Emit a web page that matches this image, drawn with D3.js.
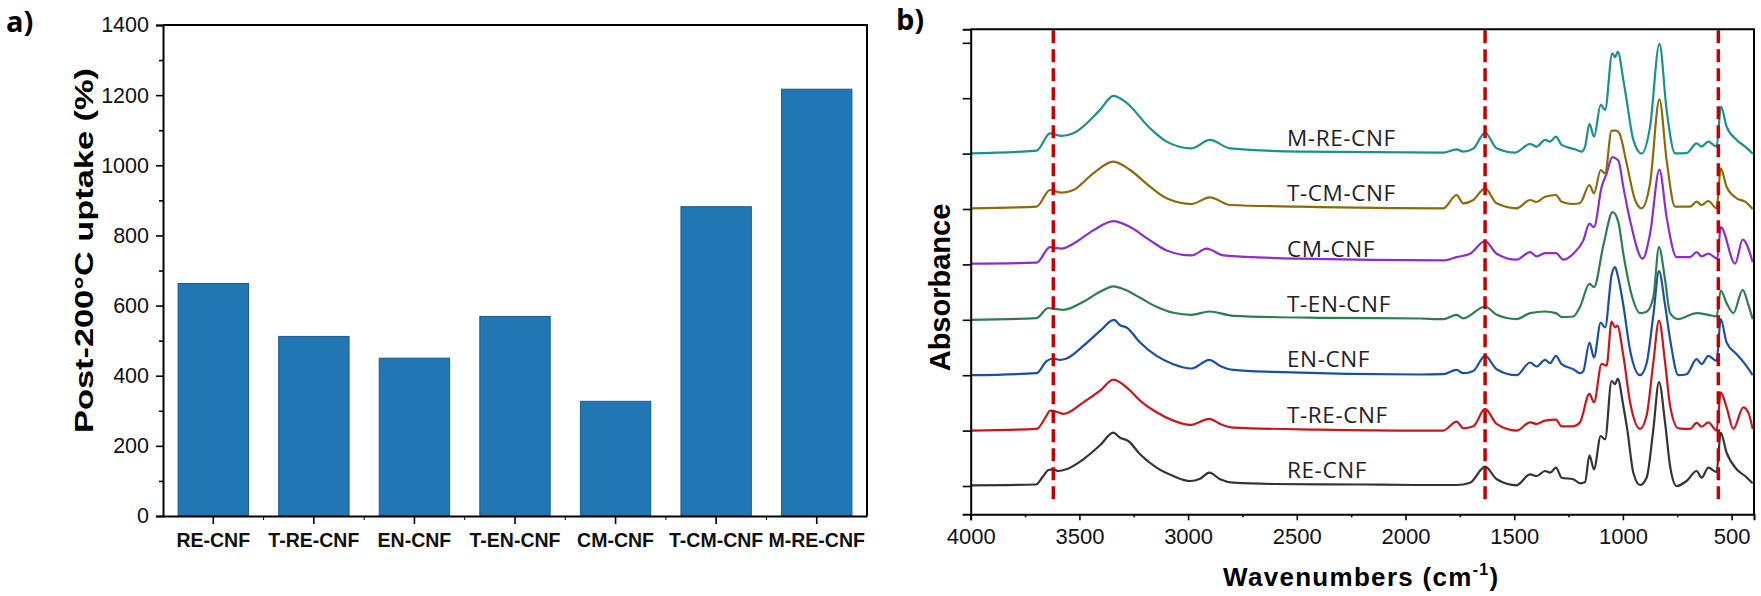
<!DOCTYPE html>
<html>
<head>
<meta charset="utf-8">
<script src="https://cdn.jsdelivr.net/npm/d3@7"></script>
<style>
  html, body { margin: 0; padding: 0; background: #fff; }
  svg { display: block; }
</style>
</head>
<body>
<svg id="chart" width="1761" height="596"></svg>
<script>
// ---- panel a data ----
const samples = ["RE-CNF", "T-RE-CNF", "EN-CNF", "T-EN-CNF", "CM-CNF", "T-CM-CNF", "M-RE-CNF"];
const uptake = [663, 512, 450, 569, 327, 882, 1217];
const uptakeTicks = [0, 200, 400, 600, 800, 1000, 1200, 1400];

// ---- panel b data: [wavenumber, absorbance (a.u.)] ----
const reCnf = [[4000,0.7],[3700,1.5],[3666,10],[3643,16],[3620,16.7],[3597,15],[3560,16.7],[3482,26.7],[3405,40.7],[3344,53.3],[3313,48.3],[3275,45],[3221,31.7],[3145,18.3],[3068,10],[2991,5],[2945,7.3],[2902,13.3],[2853,6.7],[2792,3.3],[2608,2],[2200,1.5],[1933,1],[1765,1],[1703,3.3],[1634,19.3],[1580,6.7],[1489,0.7],[1427,11.7],[1397,10],[1358,15],[1335,13.3],[1308,18.3],[1282,8.3],[1228,6.7],[1197,2.7],[1174,4],[1154,30.7],[1133,16.7],[1102,50],[1082,46.7],[1052,105],[1036,101.7],[1024,107.3],[998,80],[980,56.7],[952,13.3],[921,1],[891,8.3],[860,56.7],[834,104],[806,63.3],[783,20],[753,0],[707,5],[661,15],[638,8.3],[607,18.3],[569,14],[550,53.3],[523,33.3],[477,16.7],[438,10],[403,2.7]];
const tReCnf = [[4000,0],[3697,1.7],[3651,15],[3635,20],[3597,18.3],[3574,16.7],[3482,28.3],[3405,40],[3344,51],[3275,41.7],[3221,30],[3145,18.3],[3068,10],[2991,5.7],[2902,11.7],[2853,6.7],[2792,3],[2400,1],[1933,0],[1826,0],[1765,9],[1734,2.3],[1688,4.3],[1634,21.7],[1581,6.7],[1489,0],[1427,8.3],[1397,6.7],[1358,10],[1308,11],[1282,4.3],[1228,4.3],[1197,8.3],[1154,36.7],[1133,28.3],[1098,66.7],[1075,65],[1052,109],[1036,103.3],[1026,105],[998,75],[967,28.3],[921,1.7],[891,15],[860,68.3],[834,110],[806,68.3],[783,25],[745,2.3],[691,1.7],[661,7.7],[638,4],[607,8.3],[569,0],[550,38.3],[523,23.3],[492,1.7],[446,23.3],[423,18],[403,1.7]];
const enCnf = [[4000,0],[3697,2],[3651,14],[3620,16.7],[3589,15.3],[3559,16.7],[3482,29.3],[3405,44.3],[3341,55.3],[3313,50],[3283,47.7],[3221,32.7],[3145,19.3],[3068,11],[2984,6.7],[2902,15.3],[2853,9.3],[2792,5.3],[2608,3.3],[1933,0.7],[1826,1],[1765,5.3],[1734,2],[1688,4.3],[1634,19.3],[1581,6],[1489,0],[1427,12.7],[1397,8.7],[1358,15.3],[1335,12],[1308,19.3],[1282,11],[1228,6],[1197,2],[1182,4],[1154,32.7],[1133,17.7],[1102,52.7],[1082,47.7],[1052,100],[1036,108],[1024,100],[998,70],[967,25],[921,0],[891,12],[860,60],[834,104],[806,70],[783,36],[745,0],[707,1],[661,16],[638,11],[607,19.3],[569,14.3],[550,56],[523,32.7],[477,21],[438,11],[403,0]];
const tEnCnf = [[4000,0],[3697,1.7],[3643,11.8],[3612,10.8],[3574,10],[3482,18],[3405,28],[3344,33.5],[3290,30],[3221,22],[3145,13],[3068,7],[2984,5],[2902,8.3],[2792,4],[2400,2],[1933,1.3],[1826,0.7],[1765,5],[1734,1.5],[1634,13.3],[1581,5],[1489,0.7],[1427,6.7],[1358,8.3],[1308,6.7],[1282,2.7],[1228,3.3],[1197,13],[1154,36],[1133,32.7],[1090,74.3],[1047,107.7],[1021,97.7],[998,66],[960,25],[921,6.7],[891,8],[860,22.7],[834,72.7],[806,40],[783,6.7],[745,0.7],[661,6.7],[607,5],[569,3.3],[550,29.3],[523,16.7],[492,6.7],[449,30],[423,15],[403,0.7]];
const cmCnf = [[4000,0.7],[3697,1.7],[3635,17.3],[3582,15.7],[3528,20.7],[3436,34],[3344,43.3],[3267,37.3],[3175,24],[3099,14],[2984,9],[2915,15.7],[2838,9],[2485,5.7],[1826,4],[1765,7.3],[1703,10.7],[1634,23.3],[1581,10.7],[1489,4.7],[1427,12.3],[1397,8],[1358,11.3],[1308,11.3],[1274,4.7],[1228,10.7],[1182,24],[1154,40.7],[1133,37.3],[1098,77.3],[1075,90.7],[1049,107.3],[1021,104],[998,77.3],[967,44],[909,5.7],[875,30.7],[832,94.7],[799,47.3],[753,7.3],[691,7.3],[661,12.3],[638,8],[607,10.7],[566,5.7],[550,37.3],[484,0.7],[449,24.7],[403,2.3]];
const tCmCnf = [[4000,0.7],[3697,2.3],[3635,19],[3582,16.3],[3528,19],[3436,35.7],[3344,47.3],[3267,39],[3175,22.3],[3099,10.7],[2984,5],[2900,11.7],[2807,4],[2485,2.3],[1826,0.7],[1765,14],[1734,5.7],[1688,9],[1634,20.7],[1581,5.7],[1489,0.7],[1427,9],[1397,7],[1358,12.3],[1308,14],[1282,7.3],[1228,5],[1197,6],[1154,24],[1133,15.7],[1102,39],[1082,35.7],[1052,78.3],[1032,78.3],[1016,75.7],[983,45.7],[944,9],[914,0.7],[875,25.7],[832,109.7],[799,49],[760,2.3],[691,2.3],[661,7.3],[638,4],[607,8],[569,0.7],[550,40.7],[523,22.3],[477,10.7],[438,7.3],[403,0]];
const mReCnf = [[4000,0.3],[3697,3],[3635,20.3],[3582,17.7],[3528,20.3],[3405,43.7],[3344,57.7],[3290,52],[3175,25.3],[3099,12],[2984,5.3],[2900,13.7],[2807,5.3],[2485,2],[1826,1],[1765,4.3],[1734,2],[1688,5],[1634,21],[1581,5.3],[1496,1],[1427,9.7],[1397,7],[1358,13.7],[1335,12],[1308,17],[1282,8.7],[1220,4.3],[1190,2],[1174,7],[1154,29.7],[1133,17],[1102,48.7],[1082,43.7],[1049,100.3],[1036,96.3],[1024,102],[998,73.7],[983,53.7],[952,13.7],[914,0],[875,27],[832,109.7],[799,43.7],[760,0.3],[707,0.5],[661,10.3],[638,7],[607,12],[569,7],[549,47],[523,27],[477,13.7],[438,7],[403,0]];

const spectra = [reCnf, tReCnf, enCnf, tEnCnf, cmCnf, tCmCnf, mReCnf];
const spectraColors = ["#343434", "#c8161d", "#1a4fa3", "#2e7d50", "#8a2fc8", "#8c6a0a", "#1a9090"];
const markerLines = [3620, 1634, 561];
const wnTicks = [4000, 3500, 3000, 2500, 2000, 1500, 1000, 500];
const offsetStep = 55.4; // vertical stacking step between spectra (a.u.)

const svg = d3.select("#chart");
const sans = "'Liberation Sans', Arial, sans-serif";

// =================== panel a ===================
const ax = { left: 163, right: 867, top: 25, bottom: 516 };

const xBand = d3.scaleBand()
  .domain(samples)
  .range([ax.left, ax.right])
  .paddingInner(0.3)
  .paddingOuter(0.15);

const yUp = d3.scaleLinear().domain([0, 1400]).range([ax.bottom, ax.top]);

const gA = svg.append("g");

gA.append("g")
  .selectAll("rect")
  .data(samples)
  .join("rect")
  .attr("x", (d) => xBand(d))
  .attr("y", (d, i) => yUp(uptake[i]))
  .attr("width", xBand.bandwidth())
  .attr("height", (d, i) => yUp(0) - yUp(uptake[i]))
  .attr("fill", "#2077b4")
  .attr("stroke", "#1a5d8e")
  .attr("stroke-width", 1);

// y axis with major + minor ticks
const yAxisA = gA.append("g")
  .attr("transform", `translate(${ax.left},0)`)
  .call(d3.axisLeft(yUp).tickValues(uptakeTicks).tickSize(7).tickPadding(7).tickFormat(d3.format("d")));
yAxisA.selectAll("text").attr("font-size", 21.5).attr("font-family", sans).attr("fill", "#111");
gA.append("g")
  .attr("transform", `translate(${ax.left},0)`)
  .call(d3.axisLeft(yUp).tickValues(d3.range(100, 1400, 200)).tickSize(4).tickFormat(""))
  .call((g) => g.select(".domain").remove());

// x axis
const xAxisA = gA.append("g")
  .attr("transform", `translate(0,${ax.bottom})`)
  .call(d3.axisBottom(xBand).tickSize(8).tickPadding(9).tickSizeOuter(0));
xAxisA.selectAll("text")
  .attr("font-size", 19.5)
  .attr("font-weight", "bold")
  .attr("font-family", sans)
  .attr("fill", "#111");
const bandEdges = samples.slice(1).map((d) => xBand(d) - (xBand.step() * xBand.paddingInner()) / 2);
gA.append("g")
  .selectAll("line")
  .data(bandEdges)
  .join("line")
  .attr("x1", (d) => d)
  .attr("x2", (d) => d)
  .attr("y1", ax.bottom)
  .attr("y2", ax.bottom + 4)
  .attr("stroke", "#000");

// frame
gA.append("path")
  .attr("d", `M${ax.left},${ax.top}H${ax.right}V${ax.bottom}`)
  .attr("fill", "none")
  .attr("stroke", "#000")
  .attr("stroke-width", 2);
gA.selectAll(".domain").attr("stroke-width", 2);
gA.selectAll(".tick line").attr("stroke-width", 1.6);

gA.append("text")
  .attr("transform", `translate(93,${(ax.top + ax.bottom) / 2 - 20}) rotate(-90)`)
  .attr("text-anchor", "middle")
  .attr("font-family", sans)
  .attr("font-weight", "bold")
  .attr("font-size", 26)
  .attr("textLength", 365)
  .attr("lengthAdjust", "spacingAndGlyphs")
  .text("Post-200°C uptake (%)");

gA.append("text")
  .attr("x", 6)
  .attr("y", 32)
  .attr("font-family", "'Open Sans', sans-serif")
  .attr("font-weight", "bold")
  .attr("font-size", 29)
  .text("a)");

// =================== panel b ===================
const bx = { left: 970.7, right: 1754, top: 29.3, bottom: 514.3 };

const xWn = d3.scaleLinear().domain([4000, 397]).range([bx.left, bx.right]);
const yAbs = d3.scaleLinear().domain([-28.3, 456.7]).range([bx.bottom, bx.top]);

const gB = svg.append("g");

const line = d3.line()
  .curve(d3.curveMonotoneX)
  .x((d) => xWn(d[0]))
  .y((d) => yAbs(d[1]));

gB.append("g")
  .selectAll("path")
  .data(spectra)
  .join("path")
  .attr("d", (d, i) => line(d.map(([w, a]) => [w, a + i * offsetStep])))
  .attr("fill", "none")
  .attr("stroke", (d, i) => spectraColors[i])
  .attr("stroke-width", 2.2)
  .attr("stroke-linejoin", "round");

// trace labels
gB.append("g")
  .selectAll("text")
  .data(samples)
  .join("text")
  .attr("x", xWn(2545))
  .attr("y", (d, i) => yAbs(i * offsetStep + 7.8))
  .attr("font-family", "'Open Sans', sans-serif")
  .attr("font-size", 22.5)
  .attr("letter-spacing", 0.6)
  .attr("fill", "#222")
  .text((d) => d);

// dashed marker lines
gB.append("g")
  .selectAll("line")
  .data(markerLines)
  .join("line")
  .attr("x1", (d) => xWn(d))
  .attr("x2", (d) => xWn(d))
  .attr("y1", bx.top + 1)
  .attr("y2", yAbs(-19))
  .attr("stroke", "#c40000")
  .attr("stroke-width", 3.5)
  .attr("stroke-dasharray", "13,6");

// axes
const xAxisB = gB.append("g")
  .attr("transform", `translate(0,${bx.bottom})`)
  .call(d3.axisBottom(xWn).tickValues(wnTicks).tickSize(6).tickPadding(8).tickFormat(d3.format("d")));
xAxisB.selectAll("text").attr("font-size", 22).attr("font-family", sans).attr("fill", "#111");
gB.append("g")
  .attr("transform", `translate(0,${bx.bottom})`)
  .call(d3.axisBottom(xWn).tickValues(d3.range(3750, 400, -500)).tickSize(3).tickFormat(""))
  .call((g) => g.select(".domain").remove());

gB.append("g")
  .attr("transform", `translate(${bx.left},0)`)
  .call(d3.axisLeft(yAbs).tickValues(d3.range(0, 9).map((k) => k * offsetStep)).tickSize(8).tickFormat(""));

gB.append("path")
  .attr("d", `M${bx.left},${bx.top}H${bx.right}V${bx.bottom}`)
  .attr("fill", "none")
  .attr("stroke", "#000")
  .attr("stroke-width", 2);
gB.selectAll(".domain").attr("stroke-width", 2);
gB.selectAll(".tick line").attr("stroke-width", 1.6);

gB.append("text")
  .attr("transform", `translate(950,${(198 + 377) / 2}) rotate(-90)`)
  .attr("text-anchor", "middle")
  .attr("font-family", sans)
  .attr("font-weight", "bold")
  .attr("font-size", 29)
  .text("Absorbance");

const xTitle = gB.append("text")
  .attr("x", 1223)
  .attr("y", 586)
  .attr("font-family", sans)
  .attr("font-weight", "bold")
  .attr("font-size", 26)
  .attr("letter-spacing", 1.3);
xTitle.append("tspan").text("Wavenumbers (cm");
xTitle.append("tspan").attr("dy", -11).attr("font-size", 16).text("-1");
xTitle.append("tspan").attr("dy", 11).text(")");

gB.append("text")
  .attr("x", 896)
  .attr("y", 30)
  .attr("font-family", "'Open Sans', sans-serif")
  .attr("font-weight", "bold")
  .attr("font-size", 29)
  .text("b)");
</script>
</body>
</html>
